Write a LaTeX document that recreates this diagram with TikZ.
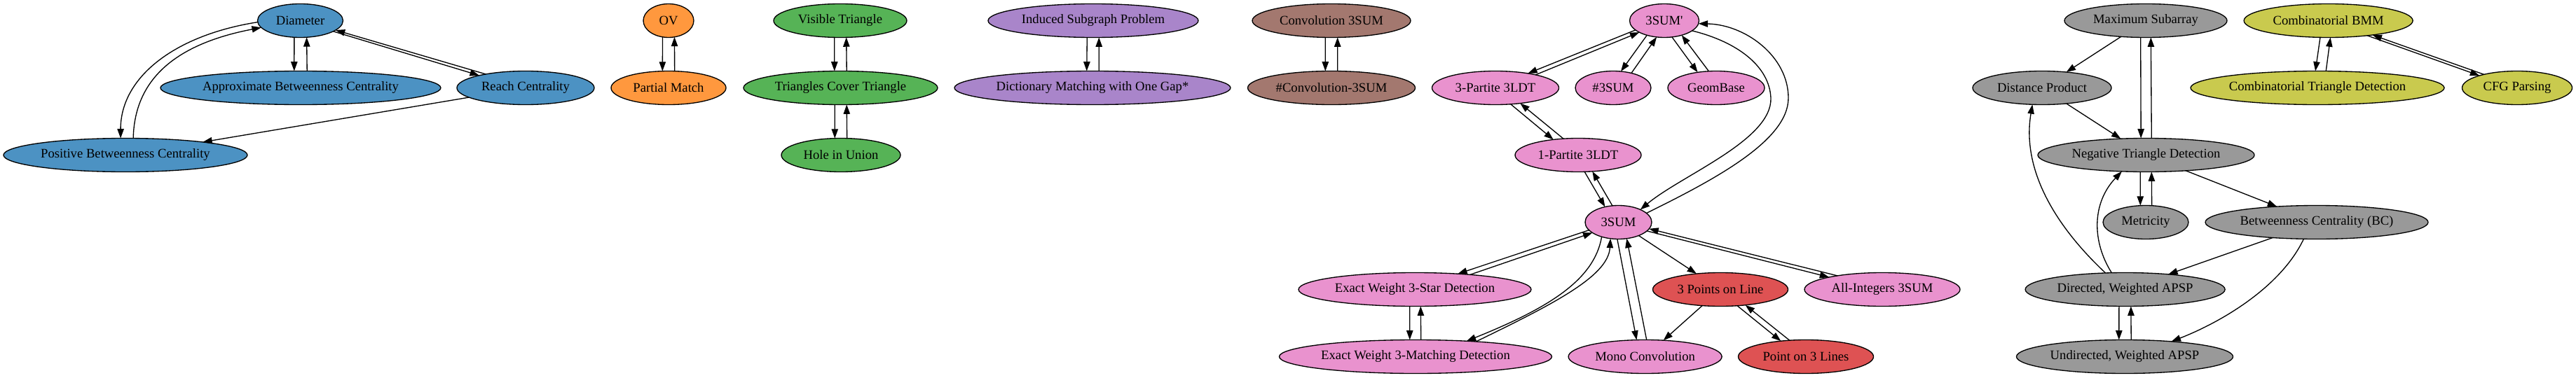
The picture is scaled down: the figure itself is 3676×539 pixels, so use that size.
\documentclass[tikz,border=0pt]{standalone}
\usepackage{fontspec}
\newfontfamily\gvfont{Liberation Serif}
\usetikzlibrary{shapes.geometric,arrows.meta,calc}
\definecolor{cblue}{RGB}{76,146,195}
\definecolor{corange}{RGB}{255,152,62}
\definecolor{cgreen}{RGB}{86,179,86}
\definecolor{cred}{RGB}{222,82,83}
\definecolor{cpurple}{RGB}{169,133,202}
\definecolor{cbrown}{RGB}{163,120,111}
\definecolor{cpink}{RGB}{233,146,206}
\definecolor{cgray}{RGB}{153,153,153}
\definecolor{colive}{RGB}{201,202,78}
\tikzset{
  gv/.style={ellipse, draw=black, line width=1pt, inner sep=0pt, outer sep=0pt,
    minimum height=36pt, font=\gvfont\fontsize{14pt}{16pt}\selectfont},
  edge/.style={draw=black, line width=1pt, -{Triangle[length=10pt,width=7pt]}},
}
% node: name, x, y, width(px), colour, text
\newcommand\gvnode[6]{\node[gv, fill=#5, minimum width={#4*0.75pt}] (#1) at (#2,#3) {#6};}
% straight edge from #1 to #2, offset to the traveller's right by #3 deg at #1 and #4 deg at #2
\newcommand\gvedge[4]{\draw[edge] let \p1=($(#2)-(#1)$), \n1={atan2(\y1,\x1)} in (#1.{\n1-(#3)}) -- (#2.{\n1+180+(#4)});}
\newcommand\gvpair[4]{\gvedge{#1}{#2}{#3}{#4}\gvedge{#2}{#1}{#4}{#3}}
\begin{document}
\begin{tikzpicture}[x=0.75pt,y=-0.75pt]
\fill[white] (0,0) rectangle (3676,539);
\useasboundingbox (0,0) rectangle (3676,539);
\def\ra{29.5}\def\rb{125.5}\def\rc{221.5}\def\rd{317.5}\def\re{413.5}\def\rf{509.5}
% blue
\gvnode{diam}{428.5}{\ra}{122}{cblue}{Diameter}
\gvnode{approx}{429}{\rb}{400}{cblue}{Approximate Betweenness Centrality}
\gvnode{reach}{750}{\rb}{196}{cblue}{Reach Centrality}
\gvnode{pos}{179}{\rc}{348}{cblue}{Positive Betweenness Centrality}
% orange
\gvnode{ov}{954}{\ra}{72}{corange}{OV}
\gvnode{pm}{954}{\rb}{164}{corange}{Partial Match}
% green
\gvnode{vis}{1199}{\ra}{190}{cgreen}{Visible Triangle}
\gvnode{tct}{1199.5}{\rb}{277}{cgreen}{Triangles Cover Triangle}
\gvnode{hole}{1200}{\rc}{170}{cgreen}{Hole in Union}
% purple
\gvnode{isp}{1560}{\ra}{300}{cpurple}{Induced Subgraph Problem}
\gvnode{dict}{1559}{\rb}{394}{cpurple}{Dictionary Matching with One Gap*}
% brown
\gvnode{conv}{1900}{\ra}{226}{cbrown}{Convolution 3SUM}
\gvnode{sconv}{1900}{\rb}{239}{cbrown}{\#Convolution-3SUM}
% pink
\gvnode{tsp}{2375}{\ra}{99}{cpink}{3SUM'}
\gvnode{tpart}{2134}{\rb}{181}{cpink}{3-Partite 3LDT}
\gvnode{shsum}{2302}{\rb}{108}{cpink}{\#3SUM}
\gvnode{geom}{2449}{\rb}{138}{cpink}{GeomBase}
\gvnode{opart}{2252}{\rc}{180}{cpink}{1-Partite 3LDT}
\gvnode{tsum}{2309.5}{\rd}{95}{cpink}{3SUM}
\gvnode{star}{2019}{\re}{332}{cpink}{Exact Weight 3-Star Detection}
\gvnode{allint}{2686}{\re}{222}{cpink}{All-Integers 3SUM}
\gvnode{match}{2020}{\rf}{389}{cpink}{Exact Weight 3-Matching Detection}
\gvnode{mono}{2347.6}{\rf}{219}{cpink}{Mono Convolution}
% red
\gvnode{tpl}{2455}{\re}{193}{cred}{3 Points on Line}
\gvnode{p3l}{2577}{\rf}{193}{cred}{Point on 3 Lines}
% gray
\gvnode{maxs}{3062}{\ra}{232}{cgray}{Maximum Subarray}
\gvnode{dp}{2914}{\rb}{198}{cgray}{Distance Product}
\gvnode{ntd}{3062.5}{\rc}{309}{cgray}{Negative Triangle Detection}
\gvnode{metr}{3062}{\rd}{122}{cgray}{Metricity}
\gvnode{bc}{3306}{\rd}{318}{cgray}{Betweenness Centrality (BC)}
\gvnode{dapsp}{3032.6}{\re}{285}{cgray}{Directed, Weighted APSP}
\gvnode{uapsp}{3032}{\rf}{309}{cgray}{Undirected, Weighted APSP}
% olive
\gvnode{cbmm}{3322.6}{\ra}{241}{colive}{Combinatorial BMM}
\gvnode{ctd}{3307}{\rb}{362}{colive}{Combinatorial Triangle Detection}
\gvnode{cfg}{3592}{\rb}{157}{colive}{CFG Parsing}

% ---- edges: blue
\gvpair{diam}{approx}{21}{21}
\gvpair{diam}{reach}{2.3}{1.8}
\draw[edge] (diam.182) .. controls (250,50) and (172,110) .. (pos.106.3);
\draw[edge] (pos.65.9) .. controls (192,110) and (255,62) .. (diam.190);
\draw[edge] (reach) -- (pos);
% orange, green, purple, brown
\gvpair{ov}{pm}{20}{20}
\gvpair{vis}{tct}{20}{20}
\gvpair{tct}{hole}{20}{20}
\gvpair{isp}{dict}{20}{20}
\gvpair{conv}{sconv}{20}{20}
% pink
\gvpair{tsp}{tpart}{4}{3.2}
\gvpair{tsp}{shsum}{13}{13}
\gvpair{tsp}{geom}{13}{13}
\gvpair{tpart}{opart}{8}{8}
\gvpair{opart}{tsum}{10.5}{10.5}
\draw[edge] (tsp.-20) .. controls (2480,60) and (2525,95) .. (2527,140) .. controls (2529,200) and (2400,250) .. (tsum.30);
\draw[edge] (tsum.18) .. controls (2450,255) and (2552,200) .. (2552,140) .. controls (2552,80) and (2490,35) .. (tsp.-5);
\gvpair{tsum}{star}{4}{2.5}
\draw[edge] (tsum.221.3) .. controls (2275,400) and (2210,440) .. (match.17.4);
\draw[edge] (match.14.4) .. controls (2215,435) and (2295,395) .. (tsum.244.8);
\gvpair{tsum}{mono}{16}{16}
\draw[edge] (tsum) -- (tpl);
\gvpair{tsum}{allint}{3.3}{2}
\gvpair{star}{match}{18.5}{18.5}
\draw[edge] (tpl) -- (mono);
\gvpair{tpl}{p3l}{6.7}{6.7}
% gray
\draw[edge] (maxs) -- (dp);
\gvpair{maxs}{ntd}{17.4}{17.4}
\draw[edge] (dp) -- (ntd);
\gvpair{ntd}{metr}{19}{19}
\draw[edge] (ntd) -- (bc);
\draw[edge] (dapsp.129.5) .. controls (2985,345) and (2985,290) .. (ntd.214.15);
\draw[edge] (dapsp.140.6) .. controls (2930,320) and (2885,240) .. (dp.240.6);
\draw[edge] (bc) -- (dapsp);
\draw[edge] (bc.232) .. controls (3255,410) and (3170,460) .. (uapsp.18);
\gvpair{dapsp}{uapsp}{19.7}{19.7}
% olive
\gvpair{cbmm}{ctd}{17}{17}
\gvpair{cbmm}{cfg}{1.8}{2.1}
\end{tikzpicture}
\end{document}
